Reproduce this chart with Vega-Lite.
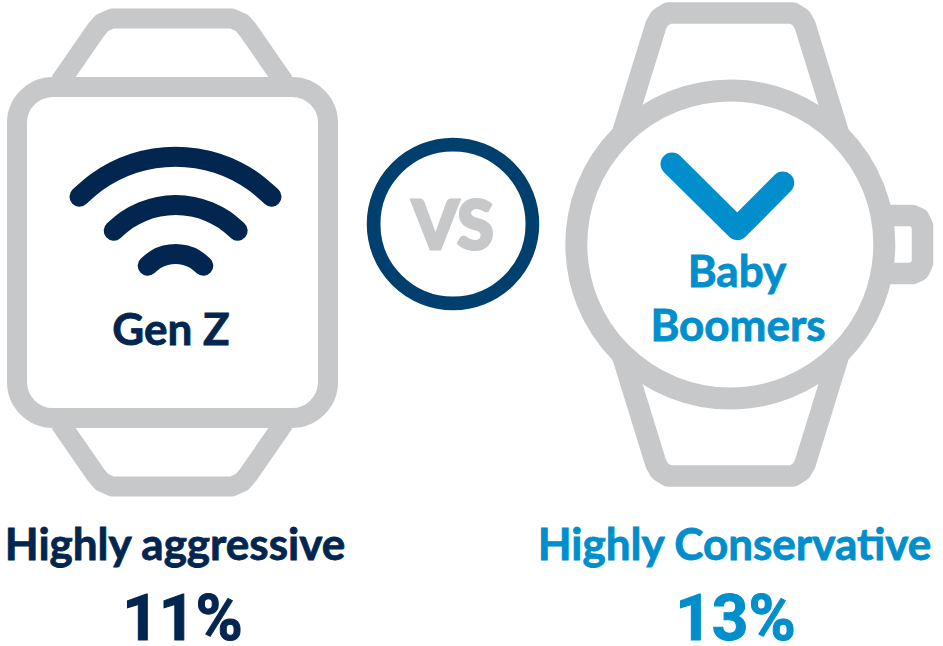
{
"$schema":"https://vega.github.io/schema/vega-lite/v6.json",
"width":943,"height":646,"padding":0,
"autosize":"none",
"background":"white",
"view":{"stroke":null},
"datasets":{
"paths":[
{"part":"leftTop","tone":"gray","seq":1,"x":60,"y":82},{"part":"leftTop","tone":"gray","seq":2,"x":96,"y":30},{"part":"leftTop","tone":"gray","seq":3,"x":102,"y":23},{"part":"leftTop","tone":"gray","seq":4,"x":112,"y":18.5},{"part":"leftTop","tone":"gray","seq":5,"x":232,"y":18.5},{"part":"leftTop","tone":"gray","seq":6,"x":242,"y":23},{"part":"leftTop","tone":"gray","seq":7,"x":248,"y":30},{"part":"leftTop","tone":"gray","seq":8,"x":284,"y":82},
{"part":"leftBottom","tone":"gray","seq":1,"x":60,"y":423},{"part":"leftBottom","tone":"gray","seq":2,"x":96,"y":475},{"part":"leftBottom","tone":"gray","seq":3,"x":102,"y":482},{"part":"leftBottom","tone":"gray","seq":4,"x":112,"y":486.5},{"part":"leftBottom","tone":"gray","seq":5,"x":232,"y":486.5},{"part":"leftBottom","tone":"gray","seq":6,"x":242,"y":482},{"part":"leftBottom","tone":"gray","seq":7,"x":248,"y":475},{"part":"leftBottom","tone":"gray","seq":8,"x":284,"y":423},
{"part":"wifi1","tone":"navy","seq":1,"x":79.5,"y":196.7},{"part":"wifi1","tone":"navy","seq":2,"x":96.1,"y":182.5},{"part":"wifi1","tone":"navy","seq":3,"x":114.2,"y":171.4},{"part":"wifi1","tone":"navy","seq":4,"x":133.8,"y":163.3},{"part":"wifi1","tone":"navy","seq":5,"x":154.4,"y":158.4},{"part":"wifi1","tone":"navy","seq":6,"x":175.5,"y":156.7},{"part":"wifi1","tone":"navy","seq":7,"x":196.6,"y":158.4},{"part":"wifi1","tone":"navy","seq":8,"x":217.2,"y":163.3},{"part":"wifi1","tone":"navy","seq":9,"x":236.8,"y":171.4},{"part":"wifi1","tone":"navy","seq":10,"x":254.9,"y":182.5},{"part":"wifi1","tone":"navy","seq":11,"x":271.5,"y":196.7},
{"part":"wifi2","tone":"navy","seq":1,"x":113.7,"y":230.7},{"part":"wifi2","tone":"navy","seq":2,"x":127,"y":219.8},{"part":"wifi2","tone":"navy","seq":3,"x":142.2,"y":211.7},{"part":"wifi2","tone":"navy","seq":4,"x":158.6,"y":206.7},{"part":"wifi2","tone":"navy","seq":5,"x":175.7,"y":205},{"part":"wifi2","tone":"navy","seq":6,"x":192.8,"y":206.7},{"part":"wifi2","tone":"navy","seq":7,"x":209.2,"y":211.7},{"part":"wifi2","tone":"navy","seq":8,"x":224.4,"y":219.8},{"part":"wifi2","tone":"navy","seq":9,"x":237.7,"y":230.7},
{"part":"wifi3","tone":"navy","seq":1,"x":147.7,"y":265.7},{"part":"wifi3","tone":"navy","seq":2,"x":156,"y":259.2},{"part":"wifi3","tone":"navy","seq":3,"x":165.5,"y":255.3},{"part":"wifi3","tone":"navy","seq":4,"x":175.5,"y":254},{"part":"wifi3","tone":"navy","seq":5,"x":185.5,"y":255.3},{"part":"wifi3","tone":"navy","seq":6,"x":195,"y":259.2},{"part":"wifi3","tone":"navy","seq":7,"x":203.3,"y":265.7},
{"part":"rightTop","tone":"gray","seq":1,"x":622,"y":135},{"part":"rightTop","tone":"gray","seq":2,"x":656,"y":25},{"part":"rightTop","tone":"gray","seq":3,"x":660,"y":18},{"part":"rightTop","tone":"gray","seq":4,"x":668,"y":13},{"part":"rightTop","tone":"gray","seq":5,"x":793,"y":13},{"part":"rightTop","tone":"gray","seq":6,"x":801,"y":18},{"part":"rightTop","tone":"gray","seq":7,"x":805,"y":25},{"part":"rightTop","tone":"gray","seq":8,"x":839,"y":135},
{"part":"rightBottom","tone":"gray","seq":1,"x":622,"y":354},{"part":"rightBottom","tone":"gray","seq":2,"x":656,"y":464},{"part":"rightBottom","tone":"gray","seq":3,"x":660,"y":471},{"part":"rightBottom","tone":"gray","seq":4,"x":668,"y":476},{"part":"rightBottom","tone":"gray","seq":5,"x":793,"y":476},{"part":"rightBottom","tone":"gray","seq":6,"x":801,"y":471},{"part":"rightBottom","tone":"gray","seq":7,"x":805,"y":464},{"part":"rightBottom","tone":"gray","seq":8,"x":839,"y":354},
{"part":"crown","tone":"gray","seq":1,"x":885,"y":215.5},{"part":"crown","tone":"gray","seq":2,"x":912,"y":215.5},{"part":"crown","tone":"gray","seq":3,"x":919,"y":218.5},{"part":"crown","tone":"gray","seq":4,"x":922.5,"y":226},{"part":"crown","tone":"gray","seq":5,"x":922.5,"y":263},{"part":"crown","tone":"gray","seq":6,"x":919,"y":270.5},{"part":"crown","tone":"gray","seq":7,"x":912,"y":273.5},{"part":"crown","tone":"gray","seq":8,"x":885,"y":273.5},
{"part":"chevron","tone":"blue","seq":1,"x":672,"y":164},{"part":"chevron","tone":"blue","seq":2,"x":737.3,"y":228.7},{"part":"chevron","tone":"blue","seq":3,"x":782.7,"y":183}
],
"labels":[
{"label":"Gen Z","tone":"navy","kind":"name","x":171,"y":345},
{"label":"Baby","tone":"blue","kind":"name","x":737,"y":287},
{"label":"Boomers","tone":"blue","kind":"name","x":738,"y":341},
{"label":"Highly aggressive","tone":"navy","kind":"head","x":175,"y":560},
{"label":"Highly Conservative","tone":"blue","kind":"head","x":734.5,"y":560},
{"label":"11%","tone":"navy","kind":"pct","x":182.5,"y":640},
{"label":"13%","tone":"blue","kind":"pct","x":735.5,"y":640},
{"label":"VS","tone":"gray","kind":"vs","x":453,"y":249}
]
},
"encoding":{
"x":{"field":"x","type":"quantitative","scale":{"domain":[0,943],"nice":false,"zero":false},"axis":null},
"y":{"field":"y","type":"quantitative","scale":{"domain":[646,0],"nice":false,"zero":false},"axis":null}
},
"layer":[
{"data":{"values":[{"x":17,"x2":328,"y":87,"y2":418}]},
 "mark":{"type":"rect","fill":"white","stroke":"#c7c8ca","strokeWidth":20,"cornerRadius":36},
 "encoding":{"x2":{"field":"x2"},"y2":{"field":"y2"}}},
{"data":{"name":"paths"},"transform":[{"filter":"datum.part==='leftTop'||datum.part==='leftBottom'"}],
 "mark":{"type":"line","strokeWidth":20,"strokeCap":"butt","strokeJoin":"round"},
 "encoding":{"detail":{"field":"part"},"order":{"field":"seq"},"color":{"field":"tone","scale":{"domain":["navy","blue","gray"],"range":["#02264f","#008ecc","#c7c8ca"]},"legend":null}}},
{"data":{"name":"paths"},"transform":[{"filter":"datum.part==='rightTop'||datum.part==='rightBottom'||datum.part==='crown'"}],
 "mark":{"type":"line","strokeWidth":21.5,"strokeCap":"butt","strokeJoin":"round"},
 "encoding":{"detail":{"field":"part"},"order":{"field":"seq"},"color":{"field":"tone","legend":null}}},
{"data":{"values":[{"x":730.3,"y":244.5}]},
 "mark":{"type":"point","filled":false,"size":94864,"stroke":"#c7c8ca","strokeWidth":22,"opacity":1}},
{"data":{"name":"paths"},"transform":[{"filter":"datum.part==='wifi1'||datum.part==='wifi2'||datum.part==='wifi3'"}],
 "mark":{"type":"line","strokeWidth":20,"strokeCap":"round","strokeJoin":"round","interpolate":"monotone"},
 "encoding":{"detail":{"field":"part"},"order":{"field":"seq"},"color":{"field":"tone","legend":null}}},
{"data":{"name":"paths"},"transform":[{"filter":"datum.part==='chevron'"}],
 "mark":{"type":"line","strokeWidth":23,"strokeCap":"round","strokeJoin":"round"},
 "encoding":{"detail":{"field":"part"},"order":{"field":"seq"},"color":{"field":"tone","legend":null}}},
{"data":{"values":[{"x":453,"y":224}]},
 "mark":{"type":"point","filled":false,"size":25217,"stroke":"#003f6e","strokeWidth":13.7,"opacity":1}},
{"data":{"name":"labels"},"transform":[{"filter":"datum.kind==='name'"}],
 "mark":{"type":"text","font":"Lato","fontWeight":"bold","fontSize":44,"baseline":"alphabetic","align":"center","strokeWidth":0.8},
 "encoding":{"text":{"field":"label"},"color":{"field":"tone","legend":null},"stroke":{"field":"tone","scale":{"domain":["navy","blue","gray"],"range":["#02264f","#008ecc","#c7c8ca"]},"legend":null}}},
{"data":{"name":"labels"},"transform":[{"filter":"datum.kind==='head'"}],
 "mark":{"type":"text","font":"Lato","fontWeight":"bold","fontSize":44,"baseline":"alphabetic","align":"center","strokeWidth":0.8},
 "encoding":{"text":{"field":"label"},"color":{"field":"tone","legend":null},"stroke":{"field":"tone","legend":null}}},
{"data":{"name":"labels"},"transform":[{"filter":"datum.kind==='pct'"}],
 "mark":{"type":"text","font":"Roboto","fontWeight":"bold","fontSize":64,"baseline":"alphabetic","align":"center","strokeWidth":1},
 "encoding":{"text":{"field":"label"},"color":{"field":"tone","legend":null},"stroke":{"field":"tone","legend":null}}},
{"data":{"name":"labels"},"transform":[{"filter":"datum.kind==='vs'"}],
 "mark":{"type":"text","font":"Lato","fontWeight":900,"fontSize":66,"baseline":"alphabetic","align":"center","strokeWidth":3},
 "encoding":{"text":{"field":"label"},"color":{"field":"tone","legend":null},"stroke":{"field":"tone","legend":null}}}
]
}
